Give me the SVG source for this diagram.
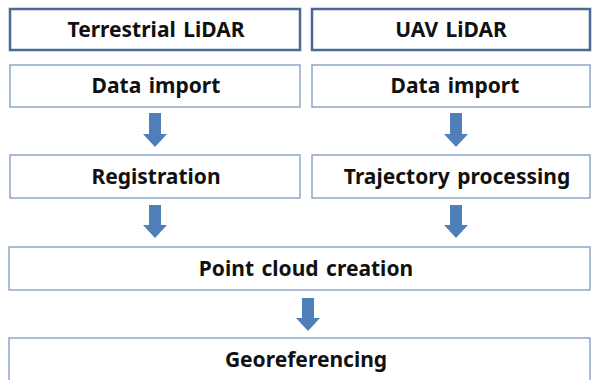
<svg xmlns="http://www.w3.org/2000/svg" width="593" height="380" viewBox="0 0 593 380">
<style>
.hdr{fill:#fff;stroke:#4a6a94;stroke-width:2.5}
.box{fill:#fff;stroke:#8ea6c8;stroke-width:1.5}
.t{font-family:"Noto Sans","Open Sans",sans-serif;font-weight:bold;font-size:21px;word-spacing:2px;fill:#111;text-anchor:middle}
.arr{fill:#4f7fb9}
</style>
<rect width="593" height="380" fill="#fff"/>
<g id="n1"><rect class="hdr" x="10" y="9" width="290" height="41"/><text class="t" x="156" y="37">Terrestrial LiDAR</text></g>
<g id="n2"><rect class="hdr" x="312" y="9" width="278" height="41"/><text class="t" x="451" y="37">UAV LiDAR</text></g>
<g id="n3"><rect class="box" x="10" y="65" width="290" height="42"/><text class="t" x="156" y="93">Data import</text></g>
<g id="n4"><rect class="box" x="312" y="65" width="278" height="42"/><text class="t" x="455" y="93">Data import</text></g>
<g id="n5"><rect class="box" x="10" y="155" width="290" height="43"/><text class="t" x="156" y="184">Registration</text></g>
<g id="n6"><rect class="box" x="312" y="155" width="278" height="43"/><text class="t" x="457" y="184">Trajectory processing</text></g>
<g id="n7"><rect class="box" x="9" y="247" width="581" height="43"/><text class="t" x="306" y="276">Point cloud creation</text></g>
<g id="n8"><rect class="box" x="9" y="338" width="581" height="44"/><text class="t" x="306" y="367">Georeferencing</text></g>
<g id="connectors">
<polygon class="arr" points="149,113 161,113 161,134 167,134 155,147 143,134 149,134"/>
<polygon class="arr" points="450,113 462,113 462,134 468,134 456,147 444,134 450,134"/>
<polygon class="arr" points="149,205 161,205 161,225 167,225 155,238 143,225 149,225"/>
<polygon class="arr" points="450,205 462,205 462,225 468,225 456,238 444,225 450,225"/>
<polygon class="arr" points="302,298 314,298 314,318 320,318 308,331 296,318 302,318"/>
</g>
</svg>
